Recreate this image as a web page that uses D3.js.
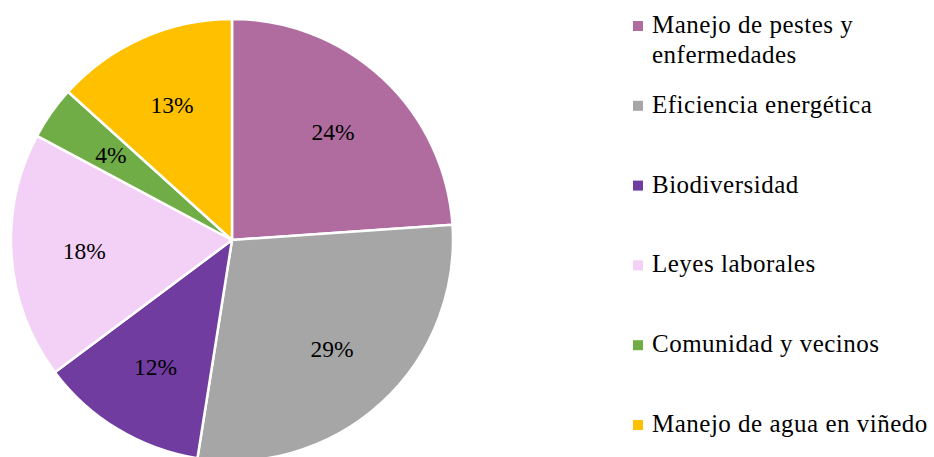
<!DOCTYPE html>
<html>
<head>
<meta charset="utf-8">
<script src="https://cdn.jsdelivr.net/npm/d3@7"></script>
<style>
  body { margin: 0; background: #fff; }
</style>
</head>
<body>
<div id="chart"></div>
<script>
// data (shares of the pie, percent)
const categories = [
  "Manejo de pestes y enfermedades",
  "Eficiencia energética",
  "Biodiversidad",
  "Leyes laborales",
  "Comunidad y vecinos",
  "Manejo de agua en viñedo"
]
const shares = [23.9, 28.6, 12.3, 18.0, 3.9, 13.3]
const colors = ["#b06c9f", "#a6a6a6", "#713ca0", "#f3d0f5", "#70ad47", "#ffc000"]

const width = 934,
  height = 457

const cx = 232, cy = 240, radius = 221
const fontFamily = '"Liberation Serif", "Times New Roman", serif'

const svg = d3.select("#chart")
  .append("svg")
  .attr("width", width)
  .attr("height", height)

const color = d3.scaleOrdinal()
  .domain(categories)
  .range(colors)

const rows = categories.map((c, i) => ({ name: c, value: shares[i] }))

const pie = d3.pie()
  .sort(null)
  .value(d => d.value)

const arcs = pie(rows)
const total = d3.sum(shares)

const arc = d3.arc()
  .innerRadius(0)
  .outerRadius(radius)

// labels sit about two thirds out from the centre
const labelArc = d3.arc()
  .innerRadius(radius * 0.67)
  .outerRadius(radius * 0.67)

const g = svg.append("g")
  .attr("transform", `translate(${cx}, ${cy})`)

g.selectAll("path")
  .data(arcs)
  .join("path")
  .attr("d", arc)
  .attr("fill", d => color(d.data.name))
  .attr("stroke", "#fff")
  .attr("stroke-width", 2.5)
  .attr("stroke-linejoin", "round")

g.selectAll("text.pct")
  .data(arcs)
  .join("text")
  .attr("class", "pct")
  .attr("transform", d => `translate(${labelArc.centroid(d)})`)
  .attr("text-anchor", "middle")
  .attr("dy", "0.35em")
  .style("font-family", fontFamily)
  .style("font-size", "23.5px")
  .style("fill", "#000")
  .text(d => Math.round(d.data.value / total * 100) + "%")

// legend
const legendX = 633,
  textX = 652,
  maxTextWidth = 292

const rowY = d3.scaleLinear()
  .domain([0, categories.length - 1])
  .range([33, 432])

const legend = svg.append("g")

const item = legend.selectAll("g")
  .data(categories)
  .join("g")
  .attr("transform", (d, i) => `translate(0, ${rowY(i)})`)

item.append("rect")
  .attr("x", legendX)
  .attr("y", -12)
  .attr("width", 10)
  .attr("height", 10)
  .attr("fill", d => color(d))

item.append("text")
  .attr("x", textX)
  .style("font-family", fontFamily)
  .style("font-size", "25px")
  .style("letter-spacing", "0.5px")
  .style("fill", "#000")
  .each(function (d) {
    // wrap long names onto a second line
    const t = d3.select(this)
    const words = d.split(" ")
    let line = []
    let lineNo = 0
    let tspan = t.append("tspan").attr("x", textX).attr("y", 0)
    words.forEach(w => {
      line.push(w)
      tspan.text(line.join(" "))
      if (tspan.node().getComputedTextLength() > maxTextWidth && line.length > 1) {
        line.pop()
        tspan.text(line.join(" "))
        line = [w]
        lineNo++
        tspan = t.append("tspan").attr("x", textX).attr("y", lineNo * 30).text(w)
      }
    })
  })
</script>
</body>
</html>
